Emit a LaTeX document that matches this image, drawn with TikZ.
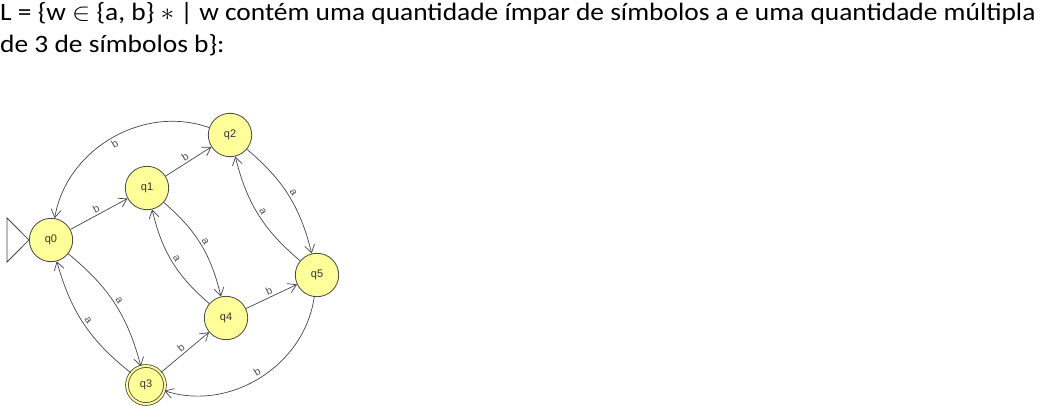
\documentclass[tikz,border=0pt]{standalone}
\usepackage{fontspec}
\usepackage{graphicx}
\setmainfont{Carlito}
\newfontfamily\lblfont{Liberation Sans}
\usetikzlibrary{arrows.meta}
\definecolor{stfill}{RGB}{255,255,153}
\definecolor{edgec}{RGB}{70,70,70}
\tikzset{
  st/.style={circle,draw=edgec,fill=stfill,line width=0.8pt,minimum size=43.4pt,inner sep=0pt,font=\lblfont\fontsize{11}{11}\selectfont,text=black!80},
  acc/.style={st,minimum size=38pt,double=stfill,double distance=2pt,draw=edgec},
  tr/.style={draw=edgec,line width=0.7pt,-{Straight Barb[length=8pt,width=10pt,line width=0.7pt]}},
  lb/.style={font=\lblfont\fontsize{10.5}{10.5}\selectfont,text=black!70,inner sep=2pt,sloped,auto},
  ttl/.style={anchor=base west,inner sep=0pt,font=\fontsize{25}{25}\selectfont}
}
\begin{document}
\begin{tikzpicture}[x=1pt,y=1pt]
\useasboundingbox (0,0) rectangle (1057,405);
\node[ttl] (t1) at (0,384) {\scalebox{1.097}[1]{L = \{w $\in$ \{a, b\} $\ast$ | w contém uma quantidade ímpar de símbolos a e uma quantidade múltipla}};
\node[ttl] (t2) at (0,352) {\scalebox{1.097}[1]{de 3 de símbolos b\}:}};
\node[st] (q0) at (51,165) {q0};
\node[st] (q1) at (147,217) {q1};
\node[st] (q2) at (230,270) {q2};
\node[acc] (q3) at (146,20) {q3};
\node[st] (q4) at (226,87) {q4};
\node[st] (q5) at (317,130) {q5};
% initial marker
\coordinate (i1) at (7,187);
\coordinate (i2) at (7,143);
\draw[edgec,line width=0.8pt] (i1) -- (q0.west) -- (i2) -- cycle;
\draw[tr] (q0) -- node[lb] {b} (q1);
\draw[tr] (q1) -- node[lb] {b} (q2);
\draw[tr] (q2) to[bend right=50] node[lb,swap] {b} (q0);
\draw[tr] (q2) to[bend left=18] node[lb] {a} (q5);
\draw[tr] (q5) to[bend left=18] node[lb] {a} (q2);
\draw[tr] (q1) to[bend left=18] node[lb] {a} (q4);
\draw[tr] (q4) to[bend left=18] node[lb] {a} (q1);
\draw[tr] (q0) to[bend left=18] node[lb] {a} (q3);
\draw[tr] (q3) to[bend left=18] node[lb] {a} (q0);
\draw[tr] (q3) -- node[lb] {b} (q4);
\draw[tr] (q4) -- node[lb] {b} (q5);
\draw[tr] (q5) to[bend left=50] node[lb] {b} (q3);
\end{tikzpicture}
\end{document}
